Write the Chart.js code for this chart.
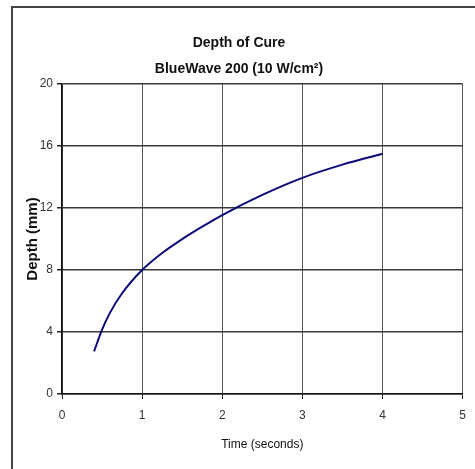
<!DOCTYPE html>
<html>
<head>
<meta charset="utf-8">
<script src="https://cdn.jsdelivr.net/npm/chart.js@4"></script>
<style>
  body { margin: 0; background: #fff; }
  canvas { display: block; }
</style>
</head>
<body>
<canvas id="chart" width="475" height="469"></canvas>
<script>
// values
const times = [0.4, 0.5, 0.6, 0.75, 1, 1.25, 1.5, 1.75, 2, 2.5, 3, 3.5, 4];
const depths = [2.75, 4.15, 5.25, 6.5, 8.0, 9.1, 10.0, 10.8, 11.55, 12.85, 13.95, 14.8, 15.5];
const titleLines = ['Depth of Cure', 'BlueWave 200 (10 W/cm\u00B2)'];

const FONT = "'Liberation Sans', Arial, sans-serif";

// white background + the frame (only the left and top edges show in the picture)
const framePlugin = {
  id: 'frame',
  beforeDraw(chart) {
    const ctx = chart.ctx;
    ctx.save();
    ctx.fillStyle = '#fff';
    ctx.fillRect(0, 0, chart.width, chart.height);
    ctx.strokeStyle = '#444';
    ctx.lineWidth = 2;
    ctx.beginPath();
    ctx.moveTo(12, chart.height);
    ctx.lineTo(12, 7);
    ctx.lineTo(chart.width, 7);
    ctx.stroke();
    ctx.restore();
  }
};

const pts = times.map((t, i) => ({ x: t, y: depths[i] }));

new Chart(document.getElementById('chart'), {
  type: 'scatter',
  data: {
    datasets: [{
      data: pts,
      showLine: true,
      borderColor: '#0a0a78',
      borderWidth: 2,
      pointRadius: 0,
      cubicInterpolationMode: 'monotone'
    }]
  },
  options: {
    responsive: false,
    animation: false,
    layout: { padding: { left: 15, right: 12, top: 0, bottom: 10 } },
    plugins: {
      legend: { display: false },
      tooltip: { enabled: false },
      title: {
        display: true,
        text: titleLines,
        color: '#111',
        font: { family: FONT, size: 14, weight: 'bold', lineHeight: 1.86 },
        padding: { top: 30, bottom: 2 }
      }
    },
    scales: {
      x: {
        type: 'linear',
        min: 0, max: 5,
        ticks: { stepSize: 1, color: '#333', padding: 9, font: { family: FONT, size: 12 } },
        grid: { color: '#555', lineWidth: 1, tickLength: 5, tickColor: '#222' },
        border: { color: '#111', width: 1.5 },
        title: {
          display: true,
          text: 'Time (seconds)',
          color: '#111',
          font: { family: FONT, size: 12 },
          padding: { top: 4, bottom: 7 }
        },
        afterFit(scale) { scale.height = 65; }
      },
      y: {
        min: 0, max: 20,
        ticks: { stepSize: 4, color: '#333', padding: 4, font: { family: FONT, size: 12 } },
        grid: { color: '#3a3a3a', lineWidth: 1.5, tickLength: 5, tickColor: '#222' },
        border: { color: '#111', width: 1.5 },
        title: {
          display: true,
          text: 'Depth (mm)',
          color: '#111',
          font: { family: FONT, size: 15, weight: 'bold' },
          padding: { top: 9, bottom: 0 }
        },
        afterFit(scale) { scale.width = 47; }
      }
    }
  },
  plugins: [framePlugin]
});
</script>
</body>
</html>
